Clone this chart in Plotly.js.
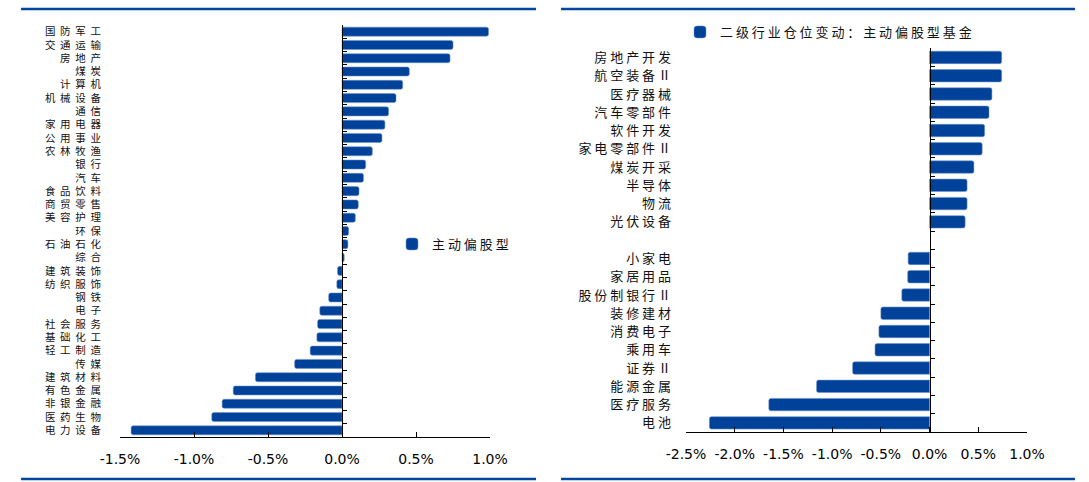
<!DOCTYPE html>
<html><head><meta charset="utf-8">
<script src="https://cdn.plot.ly/plotly-3.0.1.min.js"></script>
<style>html,body{margin:0;padding:0;background:#fff}#chart{width:1089px;height:482px}</style>
</head><body><div id="chart"></div>
<script>
// ---- data ----
const leftCategories = ['国防军工','交通运输','房地产','煤炭','计算机','机械设备','通信','家用电器','公用事业','农林牧渔','银行','汽车','食品饮料','商贸零售','美容护理','环保','石油石化','综合','建筑装饰','纺织服饰','钢铁','电子','社会服务','基础化工','轻工制造','传媒','建筑材料','有色金属','非银金融','医药生物','电力设备'];
const leftValues = [0.99,0.75,0.73,0.455,0.41,0.365,0.315,0.29,0.27,0.205,0.16,0.145,0.115,0.11,0.09,0.045,0.04,0.015,-0.03,-0.035,-0.09,-0.15,-0.165,-0.17,-0.215,-0.32,-0.585,-0.735,-0.81,-0.88,-1.425];
const leftSeriesName = '主动偏股型';

const rightCategories = ['房地产开发','航空装备Ⅱ','医疗器械','汽车零部件','软件开发','家电零部件Ⅱ','煤炭开采','半导体','物流','光伏设备',' ','小家电','家居用品','股份制银行Ⅱ','装修建材','消费电子','乘用车','证券Ⅱ','能源金属','医疗服务','电池'];
const rightValues = [0.74,0.74,0.64,0.61,0.565,0.54,0.455,0.385,0.385,0.365,null,-0.22,-0.225,-0.285,-0.5,-0.52,-0.56,-0.79,-1.16,-1.65,-2.26];
const rightSeriesName = '二级行业仓位变动：主动偏股型基金';

const leftTickVals = [-1.5,-1.0,-0.5,0,0.5,1.0];
const leftTickText = ['-1.5%','-1.0%','-0.5%','0.0%','0.5%','1.0%'];
const rightTickVals = [-2.5,-2.0,-1.5,-1.0,-0.5,0,0.5,1.0];
const rightTickText = ['-2.5%','-2.0%','-1.5%','-1.0%','-0.5%','0.0%','0.5%','1.0%'];

// ---- style helpers ----
const BLUE = '#00429A';
const CJK = '"Noto Sans CJK SC", sans-serif';
function spaced(s, gap){ // spread characters like the original typesetting
  return Array.from(s).join(gap || ' ');
}
const leftY = leftCategories.map(s => spaced(s, '\u00A0\u00A0'));
const rightY = rightCategories.map(s => spaced(s));

const W = 1089, H = 482;
const px = v => v / W, py = v => 1 - v / H;

const lxDom = [px(120), px(490)];
const lyDom = [py(437), py(25)];
const rxDom = [px(686), px(1027)];
const ryDom = [py(432), py(48.3)];
const lRange = [-1.5, 1.0], rRange = [-2.5, 1.0];
const lZeroPos = lxDom[0] + (0 - lRange[0]) / (lRange[1] - lRange[0]) * (lxDom[1] - lxDom[0]);
const rZeroPos = rxDom[0] + (0 - rRange[0]) / (rRange[1] - rRange[0]) * (rxDom[1] - rxDom[0]);

const barStyle = {color: BLUE, cornerradius: 2, line: {color: 'rgba(110,145,205,0.9)', width: 0.6}};

const traces = [
  {type:'bar', orientation:'h', x:leftValues, y:leftY, name:spaced(leftSeriesName), xaxis:'x', yaxis:'y', marker:barStyle, legend:'legend', hoverinfo:'x+y'},
  {type:'scatter', mode:'markers', x:leftValues, y:leftY, xaxis:'x', yaxis:'y3', marker:{opacity:0}, showlegend:false, hoverinfo:'skip'},
  {type:'bar', orientation:'h', x:rightValues, y:rightY, name:spaced(rightSeriesName), xaxis:'x2', yaxis:'y2', marker:barStyle, legend:'legend2', hoverinfo:'x+y'},
  {type:'scatter', mode:'markers', x:rightValues, y:rightY, xaxis:'x2', yaxis:'y4', marker:{opacity:0}, showlegend:false, hoverinfo:'skip'}
];

const xTickFont = {family:'DejaVu Sans, sans-serif', size:14, color:'#000'};

function xAxis(dom, range, vals, text, anchor){
  return {domain:dom, range:range, anchor:anchor, tickmode:'array', tickvals:vals, ticktext:text, ticks:'inside', ticklen:5, tickcolor:'#000',
    showline:true, linecolor:'#000', linewidth:1, showgrid:false, zeroline:false, tickfont:xTickFont, ticklabelstandoff:9, fixedrange:true};
}
function yMain(dom, cats, anchor, standoff, size){
  const n = cats.length;
  return {domain:dom, type:'category', range:[n-0.5,-0.5], anchor:anchor, tickmode:'array', tickvals:cats, ticktext:cats,
    showline:false, ticks:'', showgrid:false, zeroline:false, tickfont:{family:CJK, size:size, color:'#111'}, ticklabelstandoff:standoff, fixedrange:true};
}
function yOverlay(over, cats, pos){
  const n = cats.length;
  return {overlaying:over, type:'category', range:[n-0.5,-0.5], anchor:'free', position:pos, side:'left', showline:true, linecolor:'#000', linewidth:1,
    tickmode:'array', tickvals:cats, ticks:'inside', ticklen:4, tickcolor:'#000', tickson:'boundaries', showticklabels:false,
    showgrid:false, zeroline:false, fixedrange:true};
}

const lineShape = (x0,x1,y) => ({type:'line', xref:'paper', yref:'paper', x0:x0, x1:x1, y0:y, y1:y, line:{color:'#00479D', width:2.5}});

const layout = {
  width:W, height:H, margin:{l:0,r:0,t:0,b:0}, paper_bgcolor:'#fff', plot_bgcolor:'rgba(0,0,0,0)',
  bargap:0.32, barmode:'relative',
  xaxis: xAxis(lxDom, lRange, leftTickVals, leftTickText, 'y'),
  yaxis: yMain(lyDom, leftY, 'x', 18, 10.5),
  yaxis3: yOverlay('y', leftY, lZeroPos),
  xaxis2: xAxis(rxDom, rRange, rightTickVals, rightTickText, 'y2'),
  yaxis2: yMain(ryDom, rightY, 'x2', 14, 13),
  yaxis4: yOverlay('y2', rightY, rZeroPos),
  legend: {x:px(392), y:py(229), xanchor:'left', yanchor:'top', bgcolor:'rgba(0,0,0,0)', borderwidth:0, font:{family:CJK, size:13, color:'#111'}},
  legend2: {x:px(680), y:py(17), xanchor:'left', yanchor:'top', bgcolor:'rgba(0,0,0,0)', borderwidth:0, font:{family:CJK, size:13, color:'#111'}},
  shapes: [lineShape(px(21),px(536),py(9)), lineShape(px(561),px(1075),py(9)), lineShape(px(21),px(536),py(479)), lineShape(px(561),px(1075),py(479))],
  showlegend:true
};

Plotly.newPlot('chart', traces, layout, {displayModeBar:false, staticPlot:true});
</script>
</body></html>
